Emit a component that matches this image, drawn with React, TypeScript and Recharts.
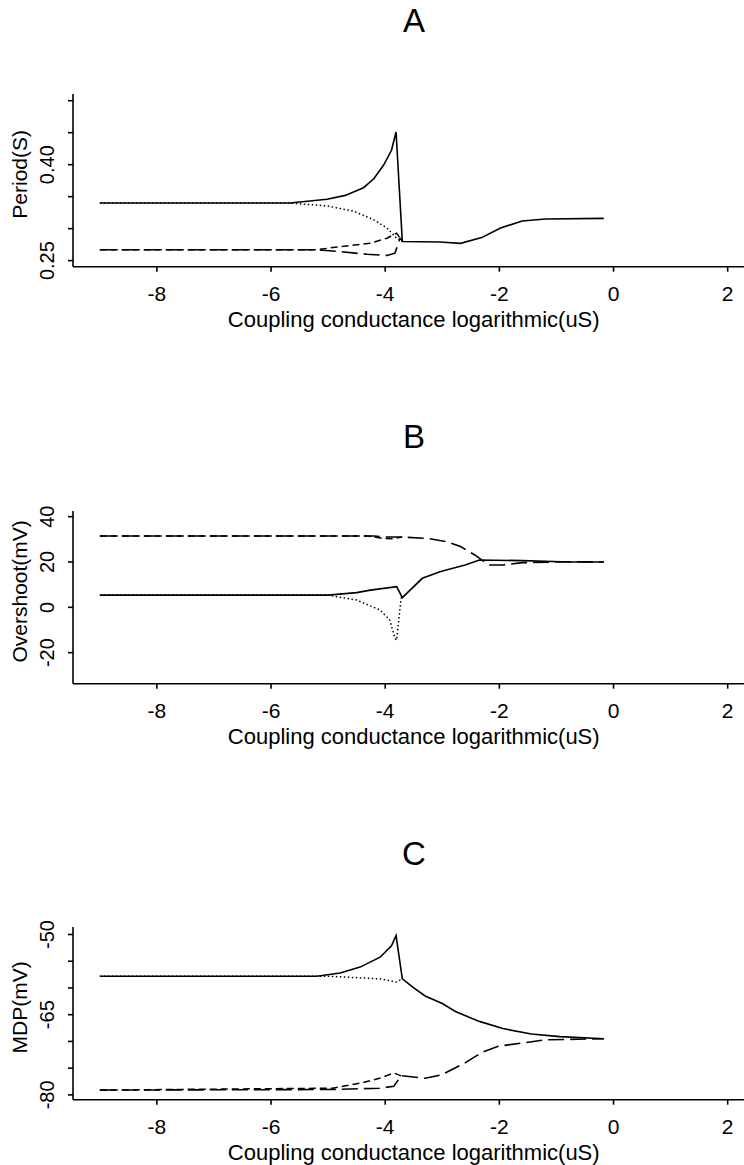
import React from 'react';
import { LineChart, Line, XAxis, YAxis } from 'recharts';

// shared x axis (log coupling conductance)
const xTicks = [-8, -6, -4, -2, 0, 2];
const xDomain = [-9.47, 2.47];
const xTitle = 'Coupling conductance logarithmic(uS)';

// A: period
const periodTicks = [0.25, 0.3, 0.35, 0.4, 0.45, 0.5];
const periodLabels = [0.25, 0.4];
const periodSolid = [[-9, 0.34], [-5.67, 0.34], [-5.02, 0.346], [-4.7, 0.352], [-4.38, 0.364], [-4.2, 0.378], [-4.03, 0.399], [-3.89, 0.4225], [-3.81, 0.451], [-3.7, 0.28], [-3.04, 0.279], [-2.68, 0.277], [-2.31, 0.286], [-1.98, 0.301], [-1.6, 0.312], [-1.19, 0.315], [-0.17, 0.316]];
const periodDotted = [[-9, 0.34], [-5.67, 0.34], [-5.02, 0.3355], [-4.56, 0.3275], [-4.21, 0.3144], [-3.97, 0.301], [-3.8, 0.285], [-3.7, 0.28]];
const periodLongDash = [[-9, 0.267], [-5.2, 0.267], [-4.79, 0.264], [-4.32, 0.26], [-3.97, 0.258], [-3.83, 0.2616], [-3.74, 0.285], [-3.7, 0.281]];
const periodShortDash = [[-9, 0.267], [-5.2, 0.267], [-4.79, 0.272], [-4.27, 0.277], [-3.97, 0.285], [-3.8, 0.293], [-3.7, 0.28]];

// B: overshoot
const overshootTicks = [-20, 0, 20, 40];
const overshootSolid = [[-9, 5.4], [-5.0, 5.4], [-4.5, 6.5], [-4.26, 7.6], [-3.8, 9.1], [-3.7, 4.3], [-3.35, 12.8], [-3.04, 15.7], [-2.93, 16.5], [-2.6, 18.7], [-2.35, 20.9], [-1.6, 20.6], [-0.77, 20], [-0.17, 20]];
const overshootDotted = [[-9, 5.4], [-5.0, 5.4], [-4.85, 4.7], [-4.5, 3.2], [-4.09, -1.2], [-3.92, -5.6], [-3.83, -13.7], [-3.8, -14.5], [-3.72, 4.3]];
const overshootLongDash = [[-9, 31.5], [-4.2, 31.5], [-4.0, 31.0], [-3.7, 31.0], [-3.26, 30.4], [-2.93, 29], [-2.68, 26.8], [-2.43, 23.1], [-2.31, 20.9], [-2.18, 18.7], [-1.94, 18.7], [-1.6, 19.7], [-0.77, 20.1], [-0.17, 20]];
const overshootShortDash = [[-9, 31.5], [-4.3, 31.5], [-4.05, 30.4], [-3.85, 30.3], [-3.7, 31.0]];

// C: MDP
const mdpTicks = [-80, -75, -70, -65, -60, -55, -50];
const mdpLabels = [-80, -65, -50];
const mdpSolid = [[-9, -57.8], [-5.2, -57.8], [-4.79, -57.2], [-4.44, -56.1], [-4.09, -54.25], [-3.89, -52.1], [-3.81, -50.2], [-3.7, -58.3], [-3.5, -60.0], [-3.3, -61.5], [-3.0, -62.9], [-2.77, -64.4], [-2.55, -65.4], [-2.35, -66.25], [-1.94, -67.6], [-1.44, -68.6], [-0.94, -69.1], [-0.17, -69.5]];
const mdpDotted = [[-9, -57.8], [-5.0, -57.8], [-4.09, -58.3], [-3.8, -58.9], [-3.7, -58.3]];
const mdpLongDash = [[-9, -79.1], [-5.0, -79.0], [-4.1, -78.75], [-3.85, -78.4], [-3.72, -76.4], [-3.3, -76.9], [-3.0, -76.2], [-2.6, -74.0], [-2.3, -72.0], [-2.02, -70.9], [-1.6, -70.3], [-1.19, -69.7], [-0.17, -69.5]];
const mdpShortDash = [[-9, -79.1], [-4.92, -78.75], [-4.43, -77.8], [-4.1, -76.9], [-3.85, -75.9], [-3.68, -76.6]];

const FONT = '"Liberation Sans", Arial, sans-serif';
const toPts = (arr: number[][]) => arr.map(([x, y]) => ({ x, y }));

const PLOT_H = 172.7;
const TOP = 94;

const YTick = (labels: number[]) => (props: any) => {
  const { y, payload } = props;
  if (!labels.some(v => Math.abs(v - payload.value) < 1e-9)) return null;
  const txt = Number.isInteger(payload.value) ? String(payload.value) : payload.value.toFixed(2);
  return (
    <text x={47} y={y} transform={`rotate(-90, 47, ${y})`} textAnchor="middle" dominantBaseline="central"
      fontSize={20} fontFamily={FONT} fill="#000">{txt}</text>
  );
};

const yLabel = (text: string) => ({
  content: (props: any) => {
    const vb = props.viewBox || {};
    const cy = (vb.y ?? TOP) + (vb.height ?? PLOT_H) / 2 - 6;
    return (
      <text x={20} y={cy} transform={`rotate(-90, 20, ${cy})`} textAnchor="middle" dominantBaseline="central"
        fontSize={21} fontFamily={FONT} fill="#000">{text}</text>
    );
  },
});

const xLabel = {
  content: (props: any) => {
    const vb = props.viewBox || {};
    const cx = (vb.x ?? 73) + (vb.width ?? 681.5) / 2;
    const cy = (vb.y ?? TOP + PLOT_H) + 53;
    return (
      <text x={cx} y={cy} textAnchor="middle" dominantBaseline="central" fontSize={22} fontFamily={FONT} fill="#000">{xTitle}</text>
    );
  },
};

interface PanelProps {
  top: number;
  domain: number[];
  ticks: number[];
  labels: number[];
  ylab: string;
  solid: number[][];
  dotted: number[][];
  longDash: number[][];
  shortDash: number[][];
}

const Panel: React.FC<PanelProps> = ({ top, domain, ticks, labels, ylab, solid, dotted, longDash, shortDash }) => (
  <div style={{ position: 'absolute', left: 0, top }}>
    <LineChart width={764.5} height={332} margin={{ top: TOP, right: 10, left: 0, bottom: 5.3 }}>
      <XAxis dataKey="x" type="number" domain={xDomain} ticks={xTicks} allowDataOverflow
        tickSize={5} tickMargin={14} height={60} stroke="#000" strokeWidth={1.6}
        tick={{ fontSize: 21, fontFamily: FONT, fill: '#000' }} label={xLabel} />
      <XAxis xAxisId="top" orientation="top" dataKey="x" type="number" domain={xDomain} height={0}
        tick={false} tickLine={false} stroke="#000" strokeWidth={1.6} />
      <YAxis type="number" domain={domain} ticks={ticks} allowDataOverflow width={73}
        tickSize={5} stroke="#000" strokeWidth={1.6} tick={YTick(labels)} label={yLabel(ylab)} />
      <Line data={toPts(dotted)} dataKey="y" stroke="#000" strokeWidth={1.5} strokeDasharray="1.5 2.5" dot={false} isAnimationActive={false} />
      <Line data={toPts(shortDash)} dataKey="y" stroke="#000" strokeWidth={1.5} strokeDasharray="7 4" dot={false} isAnimationActive={false} />
      <Line data={toPts(longDash)} dataKey="y" stroke="#000" strokeWidth={1.6} strokeDasharray="16 6" dot={false} isAnimationActive={false} />
      <Line data={toPts(solid)} dataKey="y" stroke="#000" strokeWidth={1.6} dot={false} isAnimationActive={false} />
    </LineChart>
  </div>
);

export default function App() {
  return (
    <div style={{ position: 'absolute', left: 0, top: 0, width: 744, height: 1165, overflow: 'hidden', background: '#fff' }}>
      <svg width={744} height={1165} style={{ position: 'absolute', left: 0, top: 0 }}>
        <text x={414} y={32} textAnchor="middle" fontSize={33} fontFamily={FONT}>A</text>
        <text x={414} y={448} textAnchor="middle" fontSize={33} fontFamily={FONT}>B</text>
        <text x={414} y={865} textAnchor="middle" fontSize={33} fontFamily={FONT}>C</text>
      </svg>
      <Panel top={0} domain={[0.2405, 0.5105]} ticks={periodTicks} labels={periodLabels} ylab="Period(S)"
        solid={periodSolid} dotted={periodDotted} longDash={periodLongDash} shortDash={periodShortDash} />
      <Panel top={417} domain={[-33.7, 42.5]} ticks={overshootTicks} labels={overshootTicks} ylab="Overshoot(mV)"
        solid={overshootSolid} dotted={overshootDotted} longDash={overshootLongDash} shortDash={overshootShortDash} />
      <Panel top={832.7} domain={[-80.9, -48.6]} ticks={mdpTicks} labels={mdpLabels} ylab="MDP(mV)"
        solid={mdpSolid} dotted={mdpDotted} longDash={mdpLongDash} shortDash={mdpShortDash} />
    </div>
  );
}
